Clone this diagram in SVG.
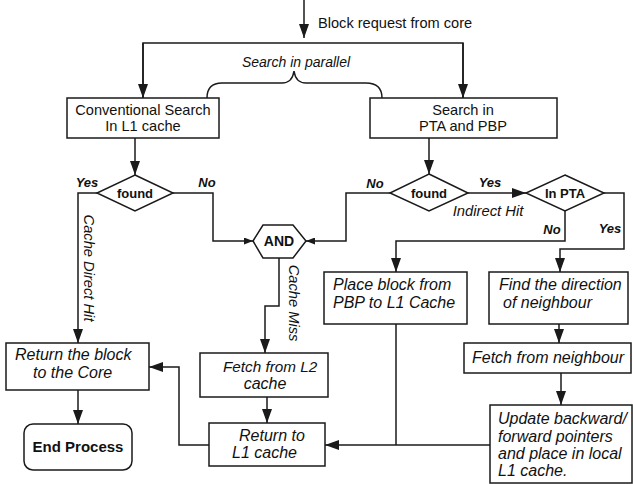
<svg xmlns="http://www.w3.org/2000/svg" width="633" height="484" viewBox="0 0 633 484">
<defs>
<marker id="arr" markerUnits="userSpaceOnUse" markerWidth="14" markerHeight="10" refX="14" refY="5" orient="auto">
<path d="M0,0 L14,5 L0,10 z" fill="#1a1a1a"/>
</marker>
<marker id="arrs" markerUnits="userSpaceOnUse" markerWidth="9" markerHeight="7" refX="9" refY="3.5" orient="auto">
<path d="M0,0 L9,3.5 L0,7 z" fill="#1a1a1a"/>
</marker>
<style>
.b{fill:#fff;stroke:#1a1a1a;stroke-width:1.5}
.c{fill:none;stroke:#1a1a1a;stroke-width:1.5}
text{font-family:"Liberation Sans",Arial,sans-serif;fill:#111}
.n{font-size:14.6px}
.i{font-size:16px;font-style:italic}
.lb{font-size:13px;font-weight:bold;font-style:italic}
.d{font-size:13px;font-weight:bold}
.m{text-anchor:middle}
</style>
</defs>
<g id="connectors">
<path class="c" d="M304,0 V38" marker-end="url(#arr)"/>
<path class="c" d="M143,98 V43 H463 V98" />
<path class="c" d="M143,43 V98" marker-end="url(#arr)"/>
<path class="c" d="M463,43 V98" marker-end="url(#arr)"/>
<path class="c" d="M207,98 C207,88 212,83 222,83 H282 C289,83 293,78 294,71 C295,78 299,83 306,83 H366 C376,83 382,88 382,98"/>
<path class="c" d="M135,138 V175" marker-end="url(#arr)"/>
<path class="c" d="M97,193 H78 V343" marker-end="url(#arr)"/>
<path class="c" d="M173,193 H213 V241 H253" marker-end="url(#arrs)"/>
<path class="c" d="M429,138 V174" marker-end="url(#arr)"/>
<path class="c" d="M390,193 H346 V241 H306" marker-end="url(#arrs)"/>
<path class="c" d="M468,193 H526" marker-end="url(#arr)"/>
<path class="c" d="M565,211 V241 H396 V272" marker-end="url(#arr)"/>
<path class="c" d="M604,193 H624 V249 H560 V272" marker-end="url(#arr)"/>
<path class="c" d="M279,258 V306 H265 V353" marker-end="url(#arr)"/>
<path class="c" d="M267,397 V423" marker-end="url(#arr)"/>
<path class="c" d="M209,445 H179 V367 H149" marker-end="url(#arr)"/>
<path class="c" d="M78,390 V424" marker-end="url(#arr)"/>
<path class="c" d="M396,324 V445"/>
<path class="c" d="M559,324 V343" marker-end="url(#arr)"/>
<path class="c" d="M561,373 V405" marker-end="url(#arr)"/>
<path class="c" d="M490,445 H325" marker-end="url(#arr)"/>
<text class="n" x="318" y="28">Block request from core</text>
<text x="296" y="67" class="m" style="font-size:14px;font-style:italic">Search in parallel</text>
<text class="lb m" x="87" y="187">Yes</text>
<text class="lb m" x="207" y="187">No</text>
<text class="lb m" x="375" y="188">No</text>
<text class="lb m" x="490" y="187">Yes</text>
<text class="lb m" x="552" y="234">No</text>
<text class="lb m" x="610" y="233">Yes</text>
<text class="m" x="488" y="216" style="font-size:14.8px;font-style:italic">Indirect Hit</text>
<text class="m" transform="translate(84,268) rotate(90)" style="font-size:14.7px;font-style:italic">Cache Direct Hit</text>
<text class="m" transform="translate(289,303) rotate(90)" style="font-size:14.7px;font-style:italic">Cache Miss</text>
</g>
<g id="conv">
<rect class="b" x="67" y="98" width="152" height="40"/>
<text class="n m" x="143" y="115">Conventional Search</text>
<text class="n m" x="143" y="131">In L1 cache</text>
</g>
<g id="pta">
<rect class="b" x="370" y="98" width="187" height="40"/>
<text class="n m" x="463" y="115">Search in</text>
<text class="n m" x="463" y="131">PTA and PBP</text>
</g>
<g id="found1">
<polygon class="b" points="135,175 173,193 135,211 97,193"/>
<text class="d m" x="135" y="198">found</text>
</g>
<g id="found2">
<polygon class="b" points="429,174 468,193 429,211 390,193"/>
<text class="d m" x="429" y="198">found</text>
</g>
<g id="inpta">
<polygon class="b" points="565,175 604,193 565,211 526,193"/>
<text class="d m" x="565" y="198">In PTA</text>
</g>
<g id="and">
<polygon class="b" points="253,241 263,225 293,225 306,241 293,258 263,258"/>
<text class="m" x="279" y="246" style="font-size:14px;font-weight:bold">AND</text>
</g>
<g id="place">
<rect class="b" x="324" y="272" width="143" height="52"/>
<text class="i" x="333" y="290">Place block from</text>
<text class="i" x="333" y="308">PBP to L1 Cache</text>
</g>
<g id="find">
<rect class="b" x="489" y="272" width="139" height="52"/>
<text class="i" x="499" y="290">Find the direction</text>
<text class="i" x="503" y="308">of neighbour</text>
</g>
<g id="fetchl2">
<rect class="b" x="200" y="353" width="128" height="44"/>
<text class="i" x="223" y="372" style="font-size:15.3px">Fetch from L2</text>
<text class="i m" x="265" y="389">cache</text>
</g>
<g id="returnl1">
<rect class="b" x="209" y="423" width="116" height="43"/>
<text class="i" x="239" y="441">Return to</text>
<text class="i" x="232" y="458">L1 cache</text>
</g>
<g id="returnblock">
<rect class="b" x="6" y="343" width="143" height="47"/>
<text class="i" x="15" y="360">Return the block</text>
<text class="i" x="33" y="378">to the Core</text>
</g>
<g id="end">
<rect class="b" x="24" y="424" width="108" height="46" rx="9"/>
<text class="m" x="78" y="452" style="font-size:15px;font-weight:bold">End Process</text>
</g>
<g id="fetchnb">
<rect class="b" x="464" y="343" width="167" height="30"/>
<text class="i" x="472" y="363">Fetch from neighbour</text>
</g>
<g id="update">
<rect class="b" x="490" y="405" width="142" height="78"/>
<text class="i" x="498" y="424">Update backward/</text>
<text class="i" x="498" y="442">forward pointers</text>
<text class="i" x="498" y="459">and place in local</text>
<text class="i" x="498" y="476">L1 cache.</text>
</g>
</svg>
